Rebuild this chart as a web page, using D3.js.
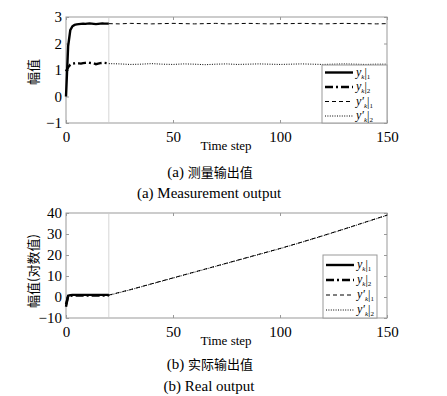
<!DOCTYPE html>
<html><head><meta charset="utf-8">
<script src="https://cdn.jsdelivr.net/npm/d3@7"></script>
<style>
body{margin:0;background:#fff;}
svg text{font-family:"Liberation Serif","DejaVu Serif",serif;}
svg text.cjk, svg tspan.cjk{font-family:"Noto Sans CJK SC","Noto Sans CJK JP",sans-serif;}
</style></head>
<body>
<svg id="c" width="447" height="396"></svg>
<script>
// ---------- data ----------
const tMeas = d3.range(0, 21);               // time steps 0..20
const yMeas1 = [0,1.9,2.5,2.65,2.7,2.72,2.73,2.74,2.75,2.74,2.75,2.76,2.75,2.74,2.73,2.74,2.75,2.76,2.75,2.75,2.75];
const yMeas2 = [0.95,1.1,1.2,1.24,1.25,1.26,1.25,1.24,1.26,1.27,1.28,1.27,1.26,1.25,1.22,1.24,1.26,1.27,1.27,1.26,1.26];
const tPredA = d3.range(20, 151, 5);         // 20..150
const yPred1A = [2.75,2.74,2.76,2.75,2.74,2.75,2.76,2.75,2.74,2.75,2.76,2.74,2.75,2.76,2.75,2.74,2.75,2.75,2.76,2.75,2.74,2.75,2.76,2.75,2.75,2.74,2.75];
const yPred2A = [1.24,1.23,1.21,1.22,1.24,1.22,1.21,1.23,1.22,1.20,1.22,1.23,1.21,1.22,1.23,1.22,1.21,1.22,1.23,1.22,1.21,1.22,1.23,1.22,1.21,1.22,1.22];

const yReal1 = [-4.6,0.6,0.9,1.0,1.0,1.0,1.0,1.0,1.0,1.0,1.0,1.0,1.0,1.0,1.0,1.0,1.0,1.0,1.0,1.0,1.0];
const yReal2 = [-3.5,0.4,0.6,0.7,0.7,0.7,0.7,0.7,0.7,0.7,0.7,0.7,0.7,0.7,0.7,0.7,0.7,0.7,0.7,0.7,0.7];
const tPredB = d3.range(20, 151, 10);
const yPred1B = [0.9,3.5,6.3,9.1,11.9,14.7,17.5,20.3,23.1,26.1,29.2,32.4,35.7,39.0];
const yPred2B = [0.8,3.4,6.2,9.0,11.8,14.6,17.4,20.2,23.0,26.0,29.1,32.3,35.6,38.9];

const xTicks = [0,50,100,150];
const yTicksA = [-1,0,1,2,3];
const yTicksB = [-10,0,10,20,30,40];
const legendNames = [["y","",1],["y","",2],["y","\u2032",1],["y","\u2032",2]];
const styles = [
  {w:2.4, dash:null},
  {w:2.4, dash:"8,3,2,3"},
  {w:1, dash:"4,3"},
  {w:1, dash:"1,1.4"}
];

const svg = d3.select("#c");
const axisCol = "#999";
const SERIF = "'Liberation Serif','DejaVu Serif',serif";

function panel(o){
  const x = d3.scaleLinear().domain([0,150]).range([66,387]);
  const y = d3.scaleLinear().domain(o.ydom).range([o.yb,o.yt]);
  const g = svg.append("g");
  g.append("rect").attr("x",66).attr("y",o.yt).attr("width",321).attr("height",o.yb-o.yt)
    .attr("fill","none").attr("stroke",axisCol).attr("stroke-width",1);
  const ax = d3.axisBottom(x).tickValues(o.xt).tickSizeInner(-3).tickSizeOuter(0).tickPadding(8);
  const gx = g.append("g").attr("transform",`translate(0,${o.yb})`).call(ax);
  const axT = d3.axisTop(x).tickValues(o.xt).tickSizeInner(-3).tickSizeOuter(0).tickFormat("");
  const gxt = g.append("g").attr("transform",`translate(0,${o.yt})`).call(axT);
  const ay = d3.axisLeft(y).tickValues(o.yt2).tickSizeInner(-3).tickSizeOuter(0).tickPadding(4)
    .tickFormat(d=> d<0 ? "\u2212"+Math.abs(d) : d);
  const gy = g.append("g").attr("transform",`translate(66,0)`).call(ay);
  const ayR = d3.axisRight(y).tickValues(o.yt2).tickSizeInner(-3).tickSizeOuter(0).tickFormat("");
  const gyr = g.append("g").attr("transform",`translate(387,0)`).call(ayR);
  [gx,gxt,gy,gyr].forEach(s=>{
    s.attr("font-family",null);
    s.select(".domain").remove();
    s.selectAll("line").attr("stroke",axisCol);
    s.selectAll("text").attr("fill","#000").style("font-size","15px").style("font-family",SERIF);
  });
  g.append("line").attr("x1",x(20)).attr("x2",x(20)).attr("y1",o.yt).attr("y2",o.yb)
    .attr("stroke","#ccc").attr("stroke-width",0.8);
  const line = d3.line().x(d=>x(d[0])).y(d=>y(d[1]));
  const ser = [
    tMeas.map((t,i)=>[t,o.s1[i]]),
    tMeas.map((t,i)=>[t,o.s2[i]]),
    o.tp.map((t,i)=>[t,o.p1[i]]),
    o.tp.map((t,i)=>[t,o.p2[i]])
  ];
  [2,3,0,1].forEach(k=>{
    g.append("path").datum(ser[k]).attr("d",line).attr("fill","none")
      .attr("stroke","#000").attr("stroke-width",styles[k].w)
      .attr("stroke-dasharray",styles[k].dash);
  });
  g.append("text").attr("x",226).attr("y",o.yb+27).attr("text-anchor","middle")
    .style("font-size","13px").style("font-family",SERIF).text("Time step");
  g.append("text").attr("class","cjk").attr("transform",`translate(38,${o.ylabY}) rotate(-90)`)
    .attr("text-anchor","middle").attr("fill","#000").style("font-size","13px").text(o.ylab);
  const L = o.leg;
  const lg = g.append("g");
  lg.append("rect").attr("x",L.x).attr("y",L.y).attr("width",L.w).attr("height",L.h)
    .attr("fill","#fff").attr("stroke",axisCol);
  legendNames.forEach((n,k)=>{
    const yy = L.y + L.first + k*L.step;
    lg.append("line").attr("x1",L.x+3).attr("x2",L.x+31).attr("y1",yy).attr("y2",yy)
      .attr("stroke","#000").attr("stroke-width",styles[k].w).attr("stroke-dasharray",styles[k].dash);
    const t = lg.append("text").attr("x",L.x+34).attr("y",yy+3).attr("fill","#000")
      .style("font-family",SERIF);
    t.append("tspan").style("font-size","12px").style("font-style","italic").text(n[0] + n[1]);
    t.append("tspan").attr("dy",3).style("font-size","7px").style("font-style","italic").text("k");
    t.append("tspan").attr("dy",-2).style("font-size","12px").text("|");
    t.append("tspan").attr("dy",2).style("font-size","7px").text(n[2]);
  });
  const c1 = g.append("text").attr("x",210).attr("y",o.cap1Y).attr("text-anchor","middle").attr("fill","#000");
  c1.append("tspan").style("font-size","15px").style("font-family",SERIF).text(o.cap1a+" ");
  c1.append("tspan").attr("class","cjk").style("font-size","13px").text(o.cap1b);
  g.append("text").attr("x",209).attr("y",o.cap2Y).attr("text-anchor","middle").attr("fill","#000")
    .style("font-size","15px").style("font-family",SERIF).text(o.cap2);
}

panel({ydom:[-1,3], yt:17, yb:123, xt:xTicks, yt2:yTicksA,
  s1:yMeas1, s2:yMeas2, tp:tPredA, p1:yPred1A, p2:yPred2A,
  ylab:"幅值", ylabY:72,
  leg:{x:322,y:65,w:65,h:58,first:7.5,step:14.5},
  cap1a:"(a)", cap1b:"测量输出值", cap1Y:177, cap2:"(a) Measurement output", cap2Y:198});

panel({ydom:[-10,40], yt:213, yb:318, xt:xTicks, yt2:yTicksB,
  s1:yReal1, s2:yReal2, tp:tPredB, p1:yPred1B, p2:yPred2B,
  ylab:"幅值(对数值)", ylabY:271,
  leg:{x:323,y:255,w:54,h:63,first:10,step:15},
  cap1a:"(b)", cap1b:"实际输出值", cap1Y:369, cap2:"(b) Real output", cap2Y:391});
</script>
</body></html>
